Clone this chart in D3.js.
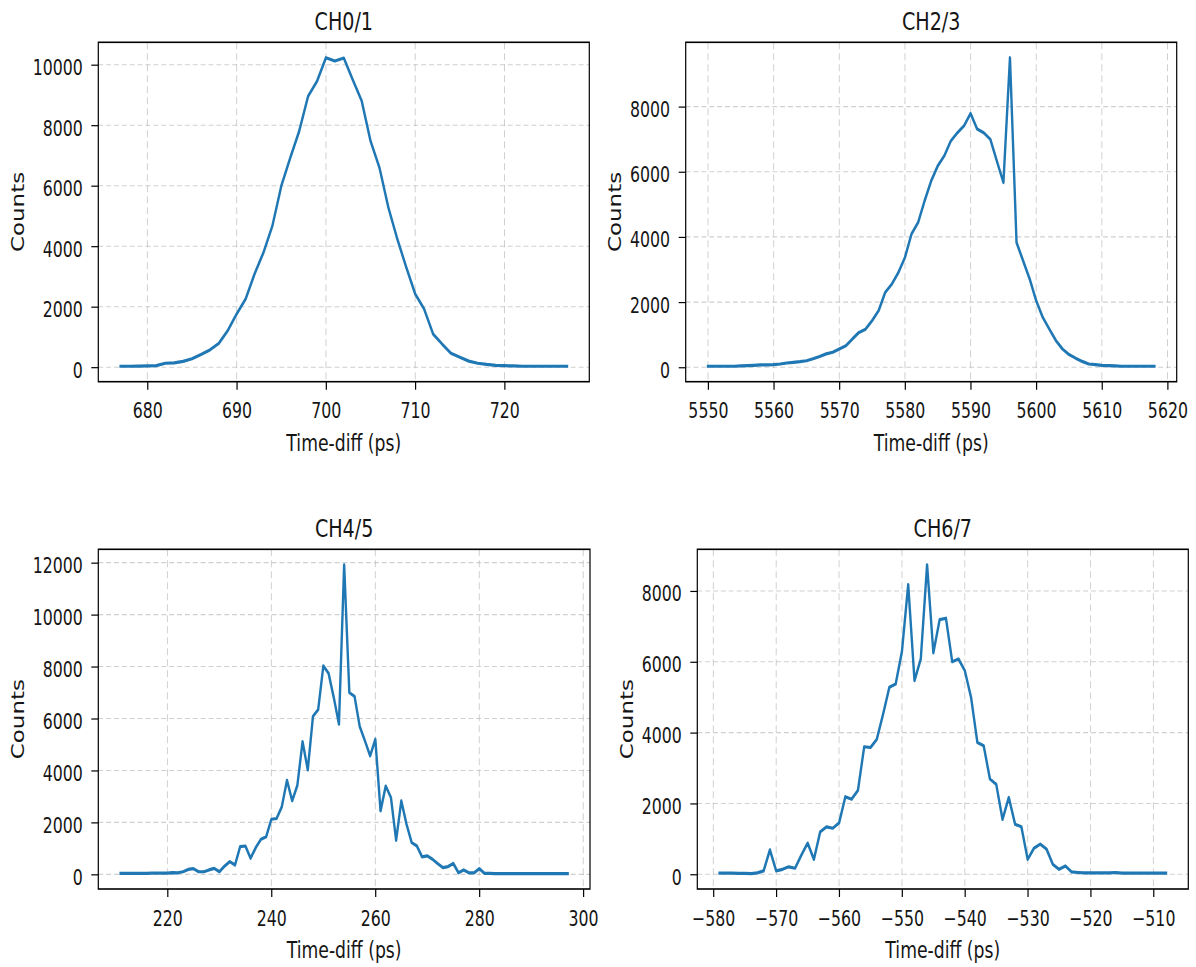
<!DOCTYPE html>
<html><head><meta charset="utf-8">
<script src="https://cdn.jsdelivr.net/npm/d3@7"></script>
<style>
html,body{margin:0;padding:0;background:#fff;}
svg{display:block;}
</style></head><body>
<svg id="chart" width="1196" height="967"></svg>
<script>
// ---------- data ----------
const ch01Time = d3.range(677, 728);
const ch01Counts = [30,30,35,40,50,130,140,190,280,420,
  570,790,1210,1760,2250,3080,3790,4670,5990,6920,
  7800,8960,9450,10230,10120,10220,9500,8810,7470,6590,
  5270,4230,3300,2420,1920,1100,770,460,330,200,
  130,90,60,50,40,30,30,30,30,30,30];

const ch23Time = d3.range(5550, 5619);
const ch23Counts = [30,30,30,30,30,40,50,60,70,70,
  80,100,130,150,170,200,260,330,410,460,
  560,660,870,1070,1170,1430,1740,2300,2550,2910,
  3370,4090,4440,5110,5720,6180,6490,6950,7200,7410,
  7790,7310,7200,7000,6330,5670,9500,3830,3270,2710,
  2040,1530,1170,820,560,390,280,180,100,80,
  60,50,40,30,30,30,30,30,30];

const ch45Time = d3.range(211, 298);
const ch45Counts = [40,40,40,40,40,40,45,45,50,50,
  64,60,100,190,220,100,100,170,230,100,
  320,490,360,1070,1090,620,1030,1350,1450,2120,
  2150,2600,3620,2830,3430,5110,4020,6080,6340,8030,
  7740,6810,5780,11920,7000,6850,5690,5140,4560,5200,
  2440,3400,2960,1310,2830,1930,1220,1090,670,710,
  580,410,260,300,420,60,170,60,60,220,
  40,40,30,30,30,30,30,30,30,30,
  30,30,30,30,30,30,30];

const ch67Time = d3.range(-579, -507);
const ch67Counts = [30,30,30,25,25,20,40,95,690,95,
  140,210,170,540,880,420,1200,1340,1300,1450,
  2190,2120,2370,3600,3580,3810,4520,5280,5370,6290,
  8180,5470,6080,8740,6250,7190,7230,6000,6080,5750,
  4990,3720,3630,2690,2540,1550,2170,1410,1340,420,
  735,850,710,280,140,235,65,50,40,40,
  40,40,40,50,30,30,30,30,30,30,
  30,30];

const titles = ["CH0/1", "CH2/3", "CH4/5", "CH6/7"];
const xTicks01 = [680, 690, 700, 710, 720];
const xTicks23 = [5550, 5560, 5570, 5580, 5590, 5600, 5610, 5620];
const xTicks45 = [220, 240, 260, 280, 300];
const xTicks67 = [-580, -570, -560, -550, -540, -530, -520, -510];
const yTicks01 = [0, 2000, 4000, 6000, 8000, 10000];
const yTicks23 = [0, 2000, 4000, 6000, 8000];
const yTicks45 = [0, 2000, 4000, 6000, 8000, 10000, 12000];
const yTicks67 = [0, 2000, 4000, 6000, 8000];
const xLabel = "Time-diff (ps)";
const yLabel = "Counts";

// ---------- layout ----------
const SX = 0.75; // horizontal compression of the whole figure
const panels = [
  {time: ch01Time, counts: ch01Counts, title: titles[0], xt: xTicks01, yt: yTicks01, box: {x0: 98.3, x1: 589.3, y0: 42.3, y1: 381.7}},
  {time: ch23Time, counts: ch23Counts, title: titles[1], xt: xTicks23, yt: yTicks23, box: {x0: 685.7, x1: 1176.7, y0: 42.3, y1: 381.7}},
  {time: ch45Time, counts: ch45Counts, title: titles[2], xt: xTicks45, yt: yTicks45, box: {x0: 98.3, x1: 590, y0: 549.3, y1: 889}},
  {time: ch67Time, counts: ch67Counts, title: titles[3], xt: xTicks67, yt: yTicks67, box: {x0: 697.3, x1: 1188.3, y0: 549.3, y1: 889}}
];

const FONT = "'DejaVu Sans', sans-serif";
const TXT = "#151515";
const svg = d3.select("#chart");
const root = svg.append("g").attr("transform", `scale(${SX},1)`);

function padded(ext) {
  const m = (ext[1] - ext[0]) * 0.05;
  return [ext[0] - m, ext[1] + m];
}

panels.forEach(p => {
  const b = p.box;
  const g = root.append("g");
  const x = d3.scaleLinear().domain(padded(d3.extent(p.time))).range([b.x0 / SX, b.x1 / SX]);
  const y = d3.scaleLinear().domain(padded(d3.extent(p.counts))).range([b.y1, b.y0]);

  // grid
  g.append("g").selectAll("line").data(p.xt).join("line")
    .attr("x1", d => x(d)).attr("x2", d => x(d))
    .attr("y1", b.y0).attr("y2", b.y1)
    .attr("stroke", "#b0b0b0").attr("stroke-opacity", 0.6)
    .attr("stroke-width", 1.3).attr("stroke-dasharray", "7,4");
  g.append("g").selectAll("line").data(p.yt).join("line")
    .attr("x1", b.x0 / SX).attr("x2", b.x1 / SX)
    .attr("y1", d => y(d)).attr("y2", d => y(d))
    .attr("stroke", "#b0b0b0").attr("stroke-opacity", 0.6)
    .attr("stroke-width", 1.1).attr("stroke-dasharray", "6.5,4");

  // data line
  const line = d3.line().x((d, i) => x(p.time[i])).y(d => y(d));
  g.append("path").datum(p.counts)
    .attr("d", line)
    .attr("fill", "none")
    .attr("stroke", "#1f77b4")
    .attr("stroke-width", 3.2)
    .attr("stroke-linejoin", "round")
    .attr("stroke-linecap", "square");

  // frame
  g.append("rect")
    .attr("x", b.x0 / SX).attr("y", b.y0)
    .attr("width", (b.x1 - b.x0) / SX).attr("height", b.y1 - b.y0)
    .attr("fill", "none").attr("stroke", "#000").attr("stroke-width", 1.6);

  // x axis
  const gx = g.append("g").attr("transform", `translate(0,${b.y1})`)
    .call(d3.axisBottom(x).tickValues(p.xt).tickSize(8).tickSizeOuter(0).tickFormat(d3.format("d")));
  gx.select(".domain").remove();
  gx.attr("font-size", null).attr("font-family", null);
  gx.selectAll(".tick line").attr("stroke", "#000").attr("stroke-width", 1.6);
  gx.selectAll(".tick text")
    .attr("dy", null).attr("y", 36.6)
    .attr("font-family", FONT).attr("font-size", 21).attr("fill", TXT);

  // y axis
  const gy = g.append("g").attr("transform", `translate(${b.x0 / SX},0)`)
    .call(d3.axisLeft(y).tickValues(p.yt).tickSize(7 / SX).tickSizeOuter(0).tickFormat(d3.format("d")));
  gy.select(".domain").remove();
  gy.attr("font-size", null).attr("font-family", null);
  gy.selectAll(".tick line").attr("stroke", "#000").attr("stroke-width", 1.2);
  gy.selectAll(".tick text")
    .attr("dy", null).attr("y", 10).attr("x", -15.6 / SX)
    .attr("font-family", FONT).attr("font-size", 21).attr("fill", TXT);

  let maxW = 0;
  gy.selectAll(".tick text").each(function() { maxW = Math.max(maxW, this.getComputedTextLength()); });
  const labelX = b.x0 / SX - 15.6 / SX - maxW - 8.7 / SX;
  const cy = (b.y0 + b.y1) / 2;

  g.append("text")
    .attr("transform", `translate(${labelX},${cy}) rotate(-90)`)
    .attr("text-anchor", "middle")
    .attr("font-family", FONT).attr("font-size", 23).attr("fill", TXT)
    .text(yLabel);

  g.append("text")
    .attr("x", (b.x0 + b.x1) / 2 / SX).attr("y", b.y1 + 69)
    .attr("text-anchor", "middle")
    .attr("font-family", FONT).attr("font-size", 23).attr("fill", TXT)
    .text(xLabel);

  g.append("text")
    .attr("x", (b.x0 + b.x1) / 2 / SX).attr("y", b.y0 - 12)
    .attr("text-anchor", "middle")
    .attr("font-family", FONT).attr("font-size", 25.5).attr("fill", TXT)
    .text(p.title);
});
</script>
</body></html>
